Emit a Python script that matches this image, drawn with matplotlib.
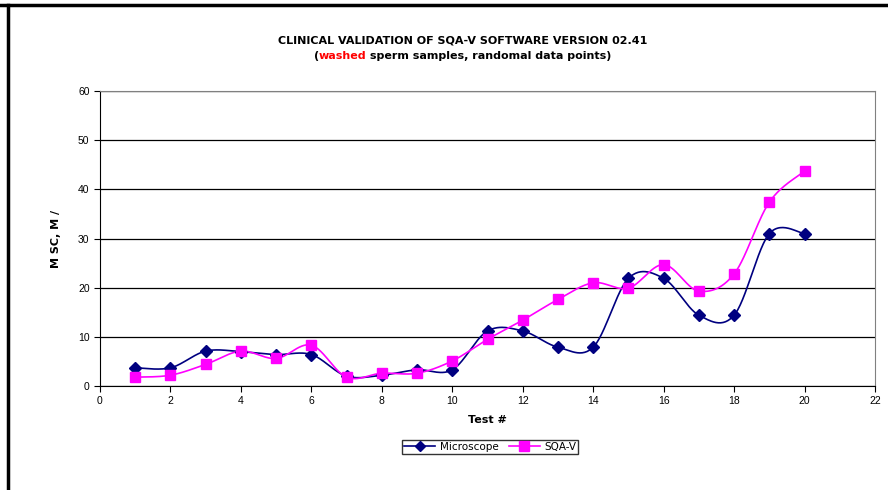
import numpy as np
import matplotlib.pyplot as plt
from matplotlib.lines import Line2D

plt.rcParams["font.family"] = ["Liberation Sans", "DejaVu Sans"]

tests = list(range(1, 21))
microscope = [3.7, 3.7, 7.1, 7.0, 6.4, 6.4, 2.0, 2.2, 3.3, 3.3,
              11.2, 11.2, 7.9, 7.9, 21.9, 21.9, 14.4, 14.4, 31.0, 31.0]
sqav = [1.8, 2.2, 4.4, 7.1, 5.6, 8.3, 1.8, 2.6, 2.6, 5.1,
        9.5, 13.4, 17.6, 21.0, 19.9, 24.7, 19.3, 22.8, 37.4, 43.7]


def smooth(x, y, n=30):
    # excel-like smoothed line (catmull-rom through the points)
    x = np.asarray(x, float)
    y = np.asarray(y, float)
    px = np.concatenate([[x[0]], x, [x[-1]]])
    py = np.concatenate([[y[0]], y, [y[-1]]])
    xs, ys = [], []
    t = np.linspace(0, 1, n)
    for i in range(1, len(px) - 2):
        for p, out in ((px, xs), (py, ys)):
            p0, p1, p2, p3 = p[i - 1], p[i], p[i + 1], p[i + 2]
            b1 = p1 + (p2 - p0) / 6
            b2 = p2 - (p3 - p1) / 6
            out.extend((1 - t) ** 3 * p1 + 3 * (1 - t) ** 2 * t * b1
                       + 3 * (1 - t) * t ** 2 * b2 + t ** 3 * p2)
    return xs, ys


fig = plt.figure(figsize=(8.88, 4.90), dpi=100)
ax = fig.add_axes([0.1126, 0.2122, 0.8728, 0.6021])

navy = "#000080"
mag = "#FF00FF"

sx, sy = smooth(tests, microscope)
ax.plot(sx, sy, color=navy, lw=1.2, zorder=3)
ax.plot(tests, microscope, ls="none", marker="D", ms=6, color=navy, zorder=4)
sx, sy = smooth(tests, sqav)
ax.plot(sx, sy, color=mag, lw=1.2, zorder=3)
ax.plot(tests, sqav, ls="none", marker="s", ms=7.5, color=mag, zorder=5)

ax.set_xlim(0, 22)
ax.set_ylim(0, 60)
ax.set_xticks(range(0, 23, 2))
ax.set_yticks(range(0, 61, 10))
ax.grid(axis="y", color="black", lw=0.9)
ax.set_axisbelow(True)
ax.tick_params(labelsize=7.5, direction="out", length=4, width=0.8)
ax.spines["top"].set_color("#808080")
ax.spines["right"].set_color("#808080")
ax.spines["left"].set_color("black")
ax.spines["bottom"].set_color("black")

lab = dict(fontsize=8, fontweight="bold", family="DejaVu Sans")
ax.set_xlabel("Test #", labelpad=6, **lab)
ax.set_ylabel("M SC, M /", labelpad=12, **lab)

tfont = dict(fontsize=8, fontweight="bold", family="DejaVu Sans", va="center")
cx = 0.521
fig.text(cx, 0.917, "CLINICAL VALIDATION OF SQA-V SOFTWARE VERSION 02.41",
         ha="center", **tfont)
# second title line with the red word
parts = [("(", "black"), ("washed", "red"), (" sperm samples, randomal data points)", "black")]
r = fig.canvas.get_renderer()
texts = [fig.text(0, 0.885, p, ha="left", color=c, **tfont) for p, c in parts]
widths = [t.get_window_extent(renderer=r).width / fig.bbox.width for t in texts]
x = cx - sum(widths) / 2
for t, w in zip(texts, widths):
    t.set_x(x)
    x += w

handles = [Line2D([], [], color=navy, marker="D", ms=5, lw=1.2),
           Line2D([], [], color=mag, marker="s", ms=7, lw=1.2)]
leg = fig.legend(handles, ["Microscope", "SQA-V"], ncol=2, loc="center",
                 bbox_to_anchor=(0.552, 0.088), frameon=True,
                 prop=dict(family="DejaVu Sans", size=7.5),
                 fancybox=False, edgecolor="black", borderpad=0.2,
                 handlelength=3, handletextpad=0.4, columnspacing=1.0)
leg.get_frame().set_linewidth(1.0)

# frame of the original worksheet
fig.add_artist(Line2D([0, 1], [0.99, 0.99], color="black", lw=2.5, transform=fig.transFigure))
fig.add_artist(Line2D([0.009, 0.009], [0, 0.99], color="black", lw=2.5, transform=fig.transFigure))

fig.savefig("out.png", dpi=100)
